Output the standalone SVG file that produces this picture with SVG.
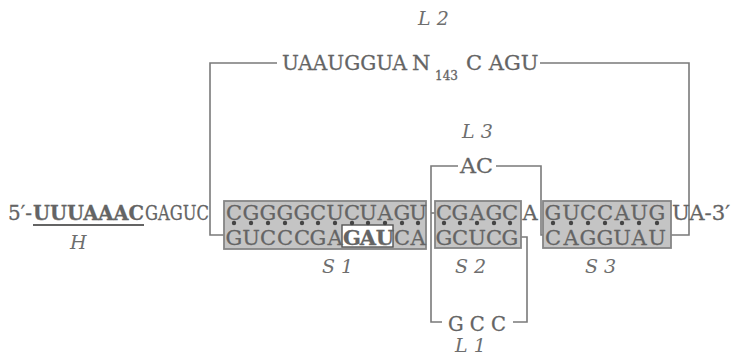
<svg xmlns="http://www.w3.org/2000/svg" width="733" height="356" viewBox="0 0 733 356">
<style>
text{font-family:'DejaVu Serif','Liberation Serif',serif}
.t{font-size:21px;fill:#646464;stroke:#646464;stroke-width:0.3}
.b{font-weight:bold}
.lab{font-size:19px;font-style:italic;fill:#6e6e6e}
.ln{fill:none;stroke:#7a7a7a;stroke-width:1.6}
.box{fill:#c4c4c4;stroke:#858585;stroke-width:1.8}
.dot{fill:#444444}
</style>
<rect width="733" height="356" fill="#ffffff"/>
<g id="connectors">
<polyline class="ln" points="224,235 210,235 210,63 277,63"/>
<polyline class="ln" points="540,63 689,63 689,235 671,235"/>
<polyline class="ln" points="458,166 431,166 431,322 442,322"/>
<line class="ln" x1="431" y1="213" x2="435" y2="213"/>
<polyline class="ln" points="496,166 541,166 541,235 543,235"/>
<polyline class="ln" points="521,237 527,237 527,322 513,322"/>
</g>
<g id="five-prime">
<text class="t" x="8" y="220" textLength="24" lengthAdjust="spacingAndGlyphs">5′-</text>
<text class="t b" x="33" y="220" textLength="111" lengthAdjust="spacingAndGlyphs">UUUAAAC</text>
<line x1="33" y1="225" x2="144" y2="225" stroke="#646464" stroke-width="2.2"/>
<text class="t" x="145" y="220" textLength="64" lengthAdjust="spacingAndGlyphs">GAGUC</text>
<text class="lab" x="70" y="249">H</text>
</g>
<g id="S1">
<rect class="box" x="224" y="201" width="202" height="48"/>
<rect x="342" y="225" width="51" height="22" fill="#ffffff" stroke="#555555" stroke-width="1.4"/>
<text class="t" y="220" text-anchor="middle" x="234 251 268 285 302 318 335 352 368 385 402 418">CGGGGCUCUAGU</text>
<text class="t" y="245" text-anchor="middle" x="234 251 268 285 302 318 335">GUCCCGA</text>
<text class="t b" y="245" text-anchor="middle" x="352 368 385">GAU</text>
<text class="t" y="245" text-anchor="middle" x="402 418">CA</text>
<g class="dot">
<circle cx="234" cy="223" r="2.2"/><circle cx="251" cy="223" r="2.2"/><circle cx="268" cy="223" r="2.2"/><circle cx="285" cy="223" r="2.2"/><circle cx="302" cy="223" r="2.2"/><circle cx="318" cy="223" r="2.2"/><circle cx="335" cy="223" r="2.2"/><circle cx="352" cy="223" r="2.2"/><circle cx="368" cy="223" r="2.2"/><circle cx="385" cy="223" r="2.2"/><circle cx="402" cy="223" r="2.2"/><circle cx="418" cy="223" r="2.2"/>
</g>
<text class="lab" x="322" y="273">S 1</text>
</g>
<g id="S2">
<rect class="box" x="435" y="201" width="86" height="47"/>
<text class="t" y="220" text-anchor="middle" x="444 460 477 494 510">CGAGC</text>
<text class="t" y="245" text-anchor="middle" x="444 460 477 494 510">GCUCG</text>
<g class="dot">
<circle cx="444" cy="223" r="2.2"/><circle cx="460" cy="223" r="2.2"/><circle cx="477" cy="223" r="2.2"/><circle cx="494" cy="223" r="2.2"/><circle cx="510" cy="223" r="2.2"/>
</g>
<text class="lab" x="455" y="273">S 2</text>
</g>
<text class="t" x="530" y="220" text-anchor="middle">A</text>
<g id="S3">
<rect class="box" x="543" y="201" width="128" height="47"/>
<text class="t" y="220" text-anchor="middle" x="553 571 588 605 622 639 657">GUCCAUG</text>
<text class="t" y="245" text-anchor="middle" x="553 571 588 605 622 639 657">CAGGUAU</text>
<g class="dot">
<circle cx="553" cy="223" r="2.2"/><circle cx="571" cy="223" r="2.2"/><circle cx="588" cy="223" r="2.2"/><circle cx="605" cy="223" r="2.2"/><circle cx="622" cy="223" r="2.2"/><circle cx="639" cy="223" r="2.2"/><circle cx="657" cy="223" r="2.2"/>
</g>
<text class="lab" x="585" y="273">S 3</text>
</g>
<g id="three-prime">
<text class="t" x="672" y="220" textLength="58" lengthAdjust="spacingAndGlyphs">UA-3′</text>
</g>
<g id="L2">
<text class="lab" x="418" y="25">L 2</text>
<text class="t" x="282" y="70" font-size="19"><tspan textLength="125" lengthAdjust="spacingAndGlyphs">UAAUGGUA</tspan><tspan x="412">N</tspan><tspan x="435" y="80" font-size="12">143</tspan><tspan x="466" y="70">C AGU</tspan></text>
</g>
<g id="L3">
<text class="lab" x="462" y="138">L 3</text>
<text class="t" x="460" y="173" textLength="33" lengthAdjust="spacingAndGlyphs">AC</text>
</g>
<g id="L1">
<text class="t" x="448" y="331" textLength="58" lengthAdjust="spacingAndGlyphs">G C C</text>
<text class="lab" x="455" y="352">L 1</text>
</g>
</svg>
